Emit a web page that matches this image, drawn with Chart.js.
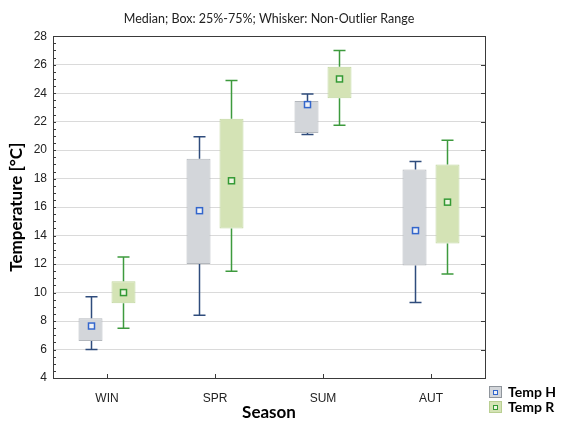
<!DOCTYPE html>
<html>
<head>
<meta charset="utf-8">
<script src="https://cdn.jsdelivr.net/npm/chart.js@4.4.0/dist/chart.umd.min.js"></script>
<style>
  body { margin: 0; background: #fff; }
  #wrap { position: relative; width: 561px; height: 421px; }
  .leg { position: absolute; left: 489px; font: bold 14px Lato, sans-serif; line-height: 15px; color: #000; display: flex; align-items: center; }
  .leg .ico { width: 13px; height: 12px; margin-right: 6px; position: relative; box-sizing: border-box; }
  .leg .ico i { position: absolute; left: 3px; top: 3px; width: 5px; height: 5px; box-sizing: border-box; }
</style>
</head>
<body>
<div id="wrap">
  <canvas id="chart"></canvas>
  <div class="leg" style="top:384px"><span class="ico" style="background:#d3d6da;border:1px solid #8f959c"><i style="border:1.5px solid #3366cc;background:#eef1f6"></i></span>Temp H</div>
  <div class="leg" style="top:399px"><span class="ico" style="background:#d4e3b5;border:1px solid #b9cf92"><i style="border:1.5px solid #339933;background:#eef5e2"></i></span>Temp R</div>
</div>
<script>
// Season boxplot data
const seasons = ['WIN', 'SPR', 'SUM', 'AUT'];
const yTicks = [4, 6, 8, 10, 12, 14, 16, 18, 20, 22, 24, 26, 28];

const hMin = [6.0, 8.4, 21.1, 9.3];
const hQ1  = [6.6, 12.0, 21.2, 11.9];
const hMed = [7.65, 15.75, 23.2, 14.35];
const hQ3  = [8.2, 19.4, 23.45, 18.65];
const hMax = [9.7, 20.95, 23.95, 19.2];

const rMin = [7.5, 11.5, 21.75, 11.3];
const rQ1  = [9.25, 14.5, 23.65, 13.45];
const rMed = [10.0, 17.85, 25.0, 16.35];
const rQ3  = [10.8, 22.2, 25.85, 19.0];
const rMax = [12.5, 24.9, 27.0, 20.7];

const series = [
  { min: hMin, med: hMed, max: hMax, whisker: '#2f4c7c', marker: '#3366cc', markerFill: '#eef1f6' },
  { min: rMin, med: rMed, max: rMax, whisker: '#3d9a3d', marker: '#339933', markerFill: '#eef5e2' }
];

// whiskers, median squares, frame and little inner ticks
const boxExtras = {
  id: 'boxExtras',
  afterDatasetsDraw(chart) {
    const ctx = chart.ctx;
    const y = chart.scales.y;
    const x = chart.scales.x;
    const area = chart.chartArea;
    ctx.save();

    series.forEach((s, di) => {
      const meta = chart.getDatasetMeta(di);
      meta.data.forEach((bar, i) => {
        const raw = chart.data.datasets[di].data[i];
        const cx = Math.round(bar.x) + 0.5;
        const top = y.getPixelForValue(raw[1]);
        const bot = y.getPixelForValue(raw[0]);
        const pMax = y.getPixelForValue(s.max[i]);
        const pMin = y.getPixelForValue(s.min[i]);
        ctx.strokeStyle = s.whisker;
        ctx.lineWidth = 1.5;
        ctx.beginPath();
        ctx.moveTo(cx, top); ctx.lineTo(cx, pMax);
        ctx.moveTo(cx - 6, pMax); ctx.lineTo(cx + 6, pMax);
        ctx.moveTo(cx, bot); ctx.lineTo(cx, pMin);
        ctx.moveTo(cx - 6, pMin); ctx.lineTo(cx + 6, pMin);
        ctx.stroke();

        const pMed = y.getPixelForValue(s.med[i]);
        ctx.fillStyle = s.markerFill;
        ctx.fillRect(cx - 3.5, pMed - 3.5, 7, 7);
        ctx.strokeStyle = s.marker;
        ctx.lineWidth = 1.5;
        ctx.strokeRect(cx - 3, pMed - 3, 6, 6);
      });
    });

    // frame
    ctx.strokeStyle = '#3a3a3a';
    ctx.lineWidth = 1;
    ctx.strokeRect(Math.round(area.left) + 0.5, Math.round(area.top) + 0.5,
      Math.round(area.right - area.left), Math.round(area.bottom - area.top));

    ctx.beginPath();
    // minor ticks on the left, major on the right
    for (let v = 4; v <= 28; v += 0.5) {
      const py = Math.round(y.getPixelForValue(v)) + 0.5;
      ctx.moveTo(area.left, py); ctx.lineTo(area.left + 3, py);
    }
    yTicks.forEach(v => {
      const py = Math.round(y.getPixelForValue(v)) + 0.5;
      ctx.moveTo(area.right, py); ctx.lineTo(area.right - 4, py);
    });
    seasons.forEach((c, i) => {
      const px = Math.round(x.getPixelForValue(i)) + 0.5;
      ctx.moveTo(px, area.bottom); ctx.lineTo(px, area.bottom - 4);
    });
    ctx.stroke();
    ctx.restore();
  }
};

const ctx = document.getElementById('chart').getContext('2d');
new Chart(ctx, {
  type: 'bar',
  data: {
    labels: seasons,
    datasets: [
      {
        label: 'Temp H',
        data: seasons.map((s, i) => [hQ1[i], hQ3[i]]),
        backgroundColor: '#d3d6da',
        borderColor: '#b3b7bc',
        borderWidth: 1,
        borderSkipped: false
      },
      {
        label: 'Temp R',
        data: seasons.map((s, i) => [rQ1[i], rQ3[i]]),
        backgroundColor: '#d4e3b5',
        borderColor: '#c2d7a0',
        borderWidth: 1,
        borderSkipped: false
      }
    ]
  },
  options: {
    responsive: true,
    maintainAspectRatio: false,
    animation: false,
    categoryPercentage: 0.611,
    barPercentage: 0.727,
    layout: { padding: { top: 0, right: 76, bottom: 0, left: 0 } },
    plugins: {
      legend: { display: false },
      tooltip: { enabled: false },
      title: {
        display: true,
        fullSize: false,
        text: 'Median; Box: 25%-75%; Whisker: Non-Outlier Range',
        color: '#222',
        font: { family: 'Lato', size: 12.5, weight: 'normal', lineHeight: 1.3 },
        padding: { top: 11, bottom: 9 }
      }
    },
    scales: {
      x: {
        grid: { display: false },
        border: { display: false },
        ticks: { color: '#222', padding: 5, font: { family: 'Liberation Sans', size: 12 } },
        title: {
          display: true,
          text: 'Season',
          color: '#000',
          font: { family: 'Lato', size: 17, weight: 'bold', lineHeight: 1 },
          padding: 0
        },
        afterFit(scale) { scale.height = 43; }
      },
      y: {
        min: 4,
        max: 28,
        afterBuildTicks(scale) { scale.ticks = yTicks.map(v => ({ value: v })); },
        grid: { color: '#dadada', lineWidth: 1, drawTicks: false },
        border: { display: false },
        ticks: { color: '#222', padding: 6, font: { family: 'Liberation Sans', size: 12 } },
        title: {
          display: true,
          text: 'Temperature [°C]',
          color: '#000',
          font: { family: 'Lato', size: 17, weight: 'bold', lineHeight: 1.2 },
          padding: { top: 6, bottom: 0 }
        },
        afterFit(scale) { scale.width = 53; }
      }
    }
  },
  plugins: [boxExtras]
});
</script>
</body>
</html>
